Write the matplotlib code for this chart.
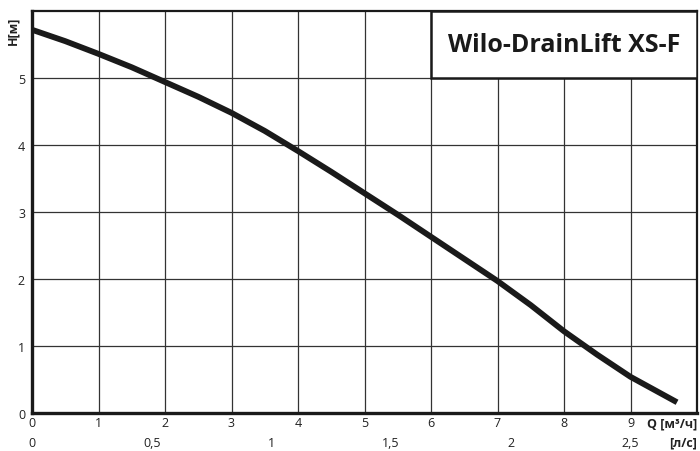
import numpy as np
import matplotlib
matplotlib.use("Agg")
import matplotlib.pyplot as plt
from matplotlib.patches import Rectangle

plt.rcParams['font.family'] = ['Open Sans', 'DejaVu Sans']

# pump curve H(Q)
q = [0, 0.5, 1, 1.5, 2, 2.5, 3, 3.5, 4, 4.5, 5, 5.5, 6, 6.5, 7, 7.5, 8, 8.5, 9, 9.7]
h = [5.72, 5.55, 5.36, 5.16, 4.94, 4.72, 4.48, 4.21, 3.91, 3.60, 3.28, 2.96, 2.63, 2.30, 1.97, 1.61, 1.22, 0.87, 0.54, 0.16]

x_ticks = [0, 1, 2, 3, 4, 5, 6, 7, 8, 9]
y_ticks = [0, 1, 2, 3, 4, 5]
ls_ticks = [0, 0.5, 1, 1.5, 2, 2.5]
ls_labels = ['0', '0,5', '1', '1,5', '2', '2,5']

fig = plt.figure(figsize=(7, 4.52), dpi=100)
ax = fig.add_axes([32 / 700, 38 / 452, 665 / 700, 402 / 452])
ax.set_xlim(0, 10)
ax.set_ylim(0, 6)

for x in x_ticks[1:]:
    ax.axvline(x, color='#333333', lw=0.9, zorder=1)
for y in y_ticks[1:]:
    ax.axhline(y, color='#333333', lw=0.9, zorder=1)

ax.plot(q, h, color='#1a1a1a', lw=4.2, solid_capstyle='butt', zorder=3)

ax.set_xticks(x_ticks)
ax.set_xticklabels([str(v) for v in x_ticks])
ax.set_yticks(y_ticks)
ax.set_yticklabels([str(v) for v in y_ticks])
ax.tick_params(length=0, labelsize=9, colors='#222222', pad=2)
ax.tick_params(axis='y', pad=5)

for s in ['left', 'bottom']:
    ax.spines[s].set_linewidth(2.4)
for s in ['top', 'right']:
    ax.spines[s].set_linewidth(1.6)
for s in ax.spines.values():
    s.set_color('#1a1a1a')

# second x scale in l/s (1 l/s = 3.6 m3/h)
for v, lab in zip(ls_ticks, ls_labels):
    ax.annotate(lab, xy=(v * 3.6, 0), xycoords='data', xytext=(0, -21),
                textcoords='offset points', ha='center', va='center',
                fontsize=9, color='#222222')

ax.annotate('Q [м³/ч]', xy=(1, 0), xycoords='axes fraction', xytext=(0, -7),
            textcoords='offset points', ha='right', va='center',
            fontsize=9, fontweight='bold', color='#222222')
ax.annotate('[л/с]', xy=(1, 0), xycoords='axes fraction', xytext=(0, -21),
            textcoords='offset points', ha='right', va='center',
            fontsize=9, fontweight='bold', color='#222222')

fig.text(13 / 700, 1 - 31 / 452, 'H[м]', rotation=90, ha='center', va='center',
         fontsize=9, fontweight='bold', color='#222222')

# title box
ax.add_patch(Rectangle((6.0, 5.0), 4.0, 1.0, facecolor='white',
                       edgecolor='#1a1a1a', lw=1.8, zorder=4))
ax.text(8.0, 5.5, 'Wilo-DrainLift XS-F', ha='center', va='center',
        fontsize=18, fontweight='bold', color='#1a1a1a', zorder=5)

fig.savefig('out.png', dpi=100)
